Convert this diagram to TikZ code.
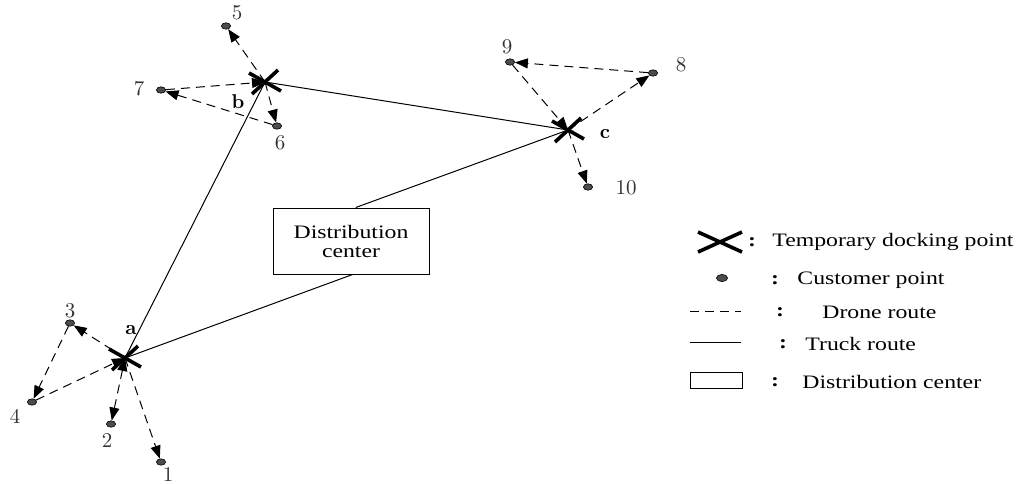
\documentclass[tikz,border=0pt]{standalone}
\usepackage{fontspec}
\newfontfamily\legfont[FakeStretch=1.25]{Liberation Serif}
\usetikzlibrary{arrows.meta,calc,shapes.geometric}
\begin{document}
\begin{tikzpicture}[x=0.5pt,y=-0.5pt,
  cust/.style={ellipse,draw=black,fill=black!70,line width=0.3pt,minimum width=4.6pt,minimum height=3.2pt,inner sep=0pt},
  num/.style={font=\fontsize{10.5}{12}\selectfont,inner sep=0pt,text=black!80},
  tag/.style={font=\fontsize{10}{12}\selectfont\bfseries,inner sep=0pt},
  drone/.style={dashed,dash pattern=on 4.5pt off 3pt,line width=0.5pt,-{Triangle[length=6.5pt,width=5pt]}},
  dronetwo/.style={dashed,dash pattern=on 4.5pt off 3pt,line width=0.5pt,{Triangle[length=6.5pt,width=5pt]}-{Triangle[length=6.5pt,width=5pt]}},
  truck/.style={line width=0.5pt},
  dockmark/.style={line width=1.8pt},
  hubbox/.style={draw,fill=white,line width=0.5pt,minimum width=78pt,minimum height=33pt,align=center,inner sep=1pt,font=\legfont\fontsize{9.5}{9.5}\selectfont},
  legtext/.style={anchor=west,inner sep=0pt,font=\legfont\fontsize{9.5}{12}\selectfont},
  legcolon/.style={inner sep=0pt,font=\legfont\bfseries\fontsize{9.5}{12}\selectfont}]
\useasboundingbox (0,0) rectangle (1020,483);

% temporary docking points
\coordinate (da) at (125,358);
\coordinate (db) at (265,82);
\coordinate (dk) at (568,130);

% customer points
\node[cust] (p1) at (161,462) {};
\node[cust] (p2) at (111,424) {};
\node[cust] (p3) at (70,323) {};
\node[cust] (p4) at (32,402) {};
\node[cust] (p5) at (226,26) {};
\node[cust] (p6) at (277,126) {};
\node[cust] (p7) at (161,90) {};
\node[cust] (p8) at (653,73) {};
\node[cust] (p9) at (510,62) {};
\node[cust] (p10) at (588,187) {};

\node[num] (n1) at (168,474) {1};
\node[num] (n2) at (107,440) {2};
\node[num] (n3) at (70,311) {3};
\node[num] (n4) at (15,416) {4};
\node[num] (n5) at (237,13) {5};
\node[num] (n6) at (280,143) {6};
\node[num] (n7) at (139,89) {7};
\node[num] (n8) at (681,65) {8};
\node[num] (n9) at (507,47) {9};
\node[num] (n10) at (626,188) {10};

\node[tag] (ta) at (131,330) {a};
\node[tag] (tb) at (238,102) {b};
\node[tag] (tc) at (605,134) {c};

% distribution center
\node[hubbox] (hub) at (351,241) {Distribution\\center};

% truck routes
\draw[truck] (da) -- (db);
\draw[truck] (db) -- (dk);
\draw[truck] (dk) -- ($(hub.north west)!0.53!(hub.north east)$);
\draw[truck] ($(hub.south west)!0.51!(hub.south east)$) -- (da);

% drone routes around a
\draw[drone] (da) -- (p3);
\draw[drone] (p3) -- (p4);
\draw[drone] (p4) -- (da);
\draw[dronetwo] (p2) -- (da);
\draw[drone] (da) -- (p1);
% drone routes around b
\draw[drone] (db) -- (p5);
\draw[drone] (db) -- (p6);
\draw[drone] (p6) -- (p7);
\draw[drone] (p7) -- (db);
% drone routes around c
\draw[drone] (dk) -- (p8);
\draw[drone] (p8) -- (p9);
\draw[drone] (p9) -- (dk);
\draw[drone] (dk) -- (p10);

% docking marks
\foreach \d in {da,db,dk}{
  \draw[dockmark] ($(\d)+(-16,-9)$) -- ($(\d)+(16,9)$);
  \draw[dockmark] ($(\d)+(-13,12)$) -- ($(\d)+(13,-12)$);
}

% legend
\coordinate (lx) at (720,242);
\draw[dockmark] ($(lx)+(-22,-10)$) -- ($(lx)+(22,10)$);
\draw[dockmark] ($(lx)+(-22,10)$) -- ($(lx)+(22,-10)$);
\node[legcolon] (k1) at (752,242) {:};
\node[legtext] (l1) at (772,242) {Temporary docking point};

\node[cust,minimum width=5.6pt,minimum height=3.6pt] (lc) at (722,278) {};
\node[legcolon] (k2) at (775,280) {:};
\node[legtext] (l2) at (797,280) {Customer point};

\coordinate (ld1) at (690,311);
\coordinate (ld2) at (741,311);
\draw[dashed,dash pattern=on 4.5pt off 3pt,line width=0.5pt] (ld1) -- (ld2);
\node[legcolon] (k3) at (780,312) {:};
\node[legtext] (l3) at (822,312) {Drone route};

\coordinate (lt1) at (690,342);
\coordinate (lt2) at (741,342);
\draw[truck] (lt1) -- (lt2);
\node[legcolon] (k4) at (783,344) {:};
\node[legtext] (l4) at (805,344) {Truck route};

\node[draw,line width=0.5pt,minimum width=26pt,minimum height=8pt,inner sep=0pt] (lb) at (716,380) {};
\node[legcolon] (k5) at (775,382) {:};
\node[legtext] (l5) at (802,382) {Distribution center};
\end{tikzpicture}
\end{document}
